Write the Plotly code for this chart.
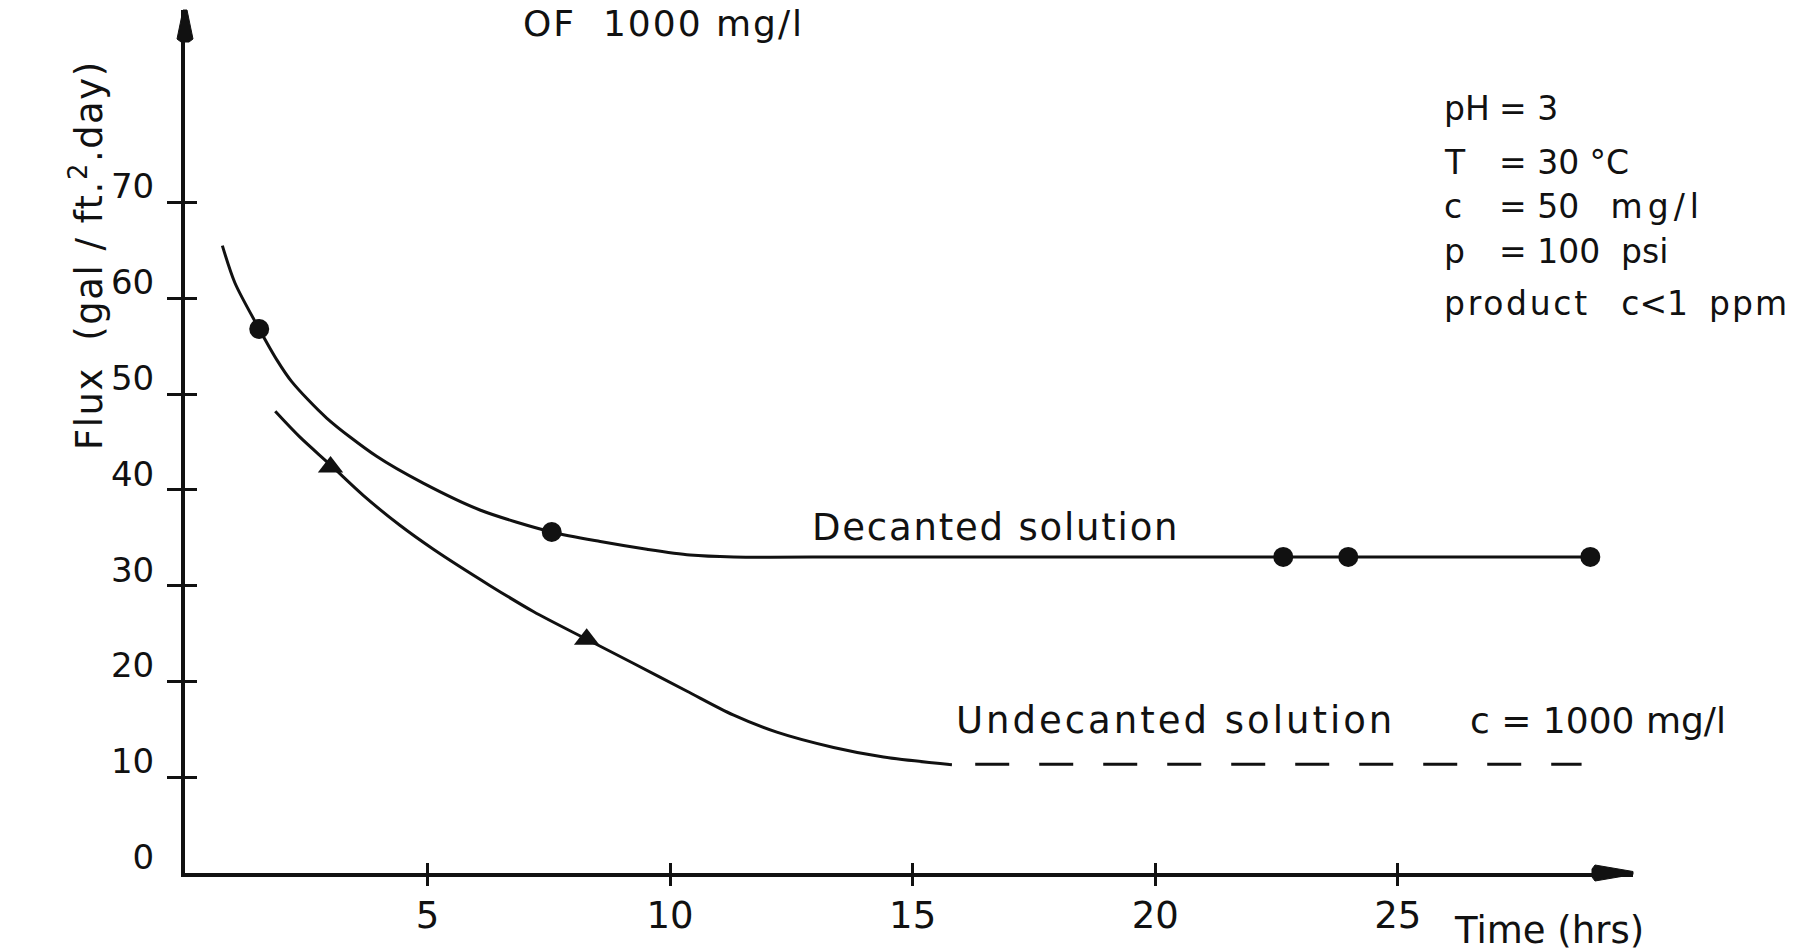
import plotly.graph_objects as go

# ---- data ----
dec_pts_x = [1.53, 7.56, 22.64, 23.98, 28.97]
dec_pts_y = [56.8, 35.6, 33.0, 33.0, 33.0]
und_pts_x = [3.0, 8.28]
und_pts_y = [42.4, 24.4]

dec_curve_x = [0.77, 1.03, 1.53, 1.89, 2.2, 2.92, 3.95, 4.91, 6.08, 7.56, 8.56, 9.52,
               10.41, 11.31, 14.0, 28.97]
dec_curve_y = [65.5, 61.6, 56.8, 53.6, 51.3, 47.5, 43.5, 40.7, 37.9, 35.6, 34.6, 33.8,
               33.2, 33.0, 33.0, 33.0]
und_curve_x = [1.86, 2.37, 3.0, 3.68, 4.43, 5.12, 6.29, 7.18, 8.28, 9.24, 10.34, 11.3,
               12.2, 13.37, 14.4, 15.81]
und_curve_y = [48.2, 45.5, 42.6, 39.4, 36.3, 33.8, 30.0, 27.3, 24.4, 21.9, 19.0, 16.5,
               14.7, 13.1, 12.1, 11.3]
und_dash_x = [16.29, 28.79]
und_dash_y = [11.35, 11.35]

x_ticks = [5, 10, 15, 20, 25]
x_tick_labels = ["5", "10", "15", "20", "25"]
y_ticks = [0, 10, 20, 30, 40, 50, 60, 70]
y_tick_labels = ["0", "10", "20", "30", "40", "50", "60", "70"]
y_tick_marks = [10, 20, 30, 40, 50, 60, 70]

FONT = "DejaVu Sans"
BLACK = "#111111"

fig = go.Figure()

fig.add_trace(go.Scatter(x=dec_curve_x, y=dec_curve_y, mode="lines",
                         line=dict(color=BLACK, width=3, shape="spline", smoothing=0.8),
                         showlegend=False, hoverinfo="skip"))
fig.add_trace(go.Scatter(x=und_curve_x, y=und_curve_y, mode="lines",
                         line=dict(color=BLACK, width=3, shape="spline", smoothing=0.9),
                         showlegend=False, hoverinfo="skip"))
fig.add_trace(go.Scatter(x=und_dash_x, y=und_dash_y, mode="lines",
                         line=dict(color=BLACK, width=3, dash="34px,30px"),
                         showlegend=False, hoverinfo="skip"))
fig.add_trace(go.Scatter(x=dec_pts_x, y=dec_pts_y, mode="markers",
                         marker=dict(symbol="circle", size=20, color=BLACK),
                         showlegend=False))
fig.add_trace(go.Scatter(x=und_pts_x, y=und_pts_y, mode="markers",
                         marker=dict(symbol="triangle-up", size=22, color=BLACK),
                         showlegend=False))

# empty traces so that the overlay tick axes get drawn
for xa, ya in [("x2", "y"), ("x3", "y"), ("x", "y2"), ("x", "y3")]:
    fig.add_trace(go.Scatter(x=[], y=[], xaxis=xa, yaxis=ya, mode="lines",
                             showlegend=False, hoverinfo="skip"))

XR = [0, 29.85]
YR = [0, 90.1]

common = dict(showgrid=False, zeroline=False)
fig.update_layout(
    width=1817, height=951,
    margin=dict(l=185, r=184, t=10, b=78),
    paper_bgcolor="white", plot_bgcolor="white",
    font=dict(family=FONT, color=BLACK),
    xaxis=dict(range=XR, tickvals=x_ticks, ticktext=x_tick_labels, ticks="",
               showline=True, linewidth=4, linecolor=BLACK,
               tickfont=dict(size=37, family=FONT, color=BLACK),
               ticklabelstandoff=7, **common),
    xaxis2=dict(range=XR, overlaying="x", anchor="y", side="bottom",
                tickvals=x_ticks, ticks="outside", ticklen=12, tickwidth=3,
                tickcolor=BLACK, showticklabels=False, **common),
    xaxis3=dict(range=XR, overlaying="x", anchor="y", side="bottom",
                tickvals=x_ticks, ticks="inside", ticklen=10, tickwidth=3,
                tickcolor=BLACK, showticklabels=False, **common),
    yaxis=dict(range=YR, tickvals=y_ticks, ticktext=y_tick_labels, ticks="",
               showline=True, linewidth=4, linecolor=BLACK,
               tickfont=dict(size=34, family=FONT, color=BLACK),
               ticklabelstandoff=20, ticklabelshift=-16, **common),
    yaxis2=dict(range=YR, overlaying="y", anchor="x", side="left",
                tickvals=y_tick_marks, ticks="outside", ticklen=17, tickwidth=3,
                tickcolor=BLACK, showticklabels=False, **common),
    yaxis3=dict(range=YR, overlaying="y", anchor="x", side="left",
                tickvals=y_tick_marks, ticks="inside", ticklen=12, tickwidth=3,
                tickcolor=BLACK, showticklabels=False, **common),
)

# arrow heads at the ends of the axes
fig.add_shape(type="path", xref="paper", yref="paper", xsizemode="pixel", ysizemode="pixel",
              xanchor=1, yanchor=0,
              path="M -41,-4 L -38,-8 L 0,-1.5 L 0,1.5 L -38,8 L -41,4 Z",
              fillcolor=BLACK, line=dict(color=BLACK, width=1))
fig.add_shape(type="path", xref="paper", yref="paper", xsizemode="pixel", ysizemode="pixel",
              xanchor=0, yanchor=1,
              path="M -4,-32 L -8,-29 L -2,0 L 2,0 L 8,-29 L 4,-32 Z",
              fillcolor=BLACK, line=dict(color=BLACK, width=1))


def sp(s, ls):
    return f'<span style="letter-spacing:{ls}px">{s}</span>' if ls else s


def txt(x, y, s, size, ls=0, xanchor="left", xref="x", yref="y", **kw):
    fig.add_annotation(x=x, y=y, xref=xref, yref=yref, text=sp(s, ls), showarrow=False,
                       xanchor=xanchor, yanchor="middle",
                       font=dict(size=size, family=FONT, color=BLACK), **kw)


txt(6.93, 88.64, "OF  1000 mg/l", 36, ls=2)
txt(12.89, 36.1, "Decanted solution", 37, ls=1.8)
txt(15.86, 15.94, "Undecanted solution", 37, ls=3)
txt(26.45, 15.94, "c = 1000 mg/l", 36)
txt(0.875, -0.067, "Time (hrs)", 37, xref="paper", yref="paper")

# condition block (label column + value column)
LX, VX = 25.91, 27.04
txt(LX, 79.84, "pH", 33)
txt(VX, 79.84, "= 3", 33)
txt(LX, 74.18, "T", 33)
txt(VX, 74.18, "= 30 °C", 33)
txt(LX, 69.57, "c", 33)
txt(VX, 69.57, "= 50   " + sp("mg/l", 5), 33)
txt(LX, 64.87, "p", 33)
txt(VX, 64.87, "= 100  psi", 33)
txt(LX, 59.51, sp("product", 2.7) + "   c<1  " + sp("ppm", 2), 33)

txt(-0.0677, 0.716, "Flux  (gal / ft.<sup>2</sup>.day)", 37, ls=1.5, xanchor="center",
    xref="paper", yref="paper", textangle=-90)

fig.write_html("out.html")
